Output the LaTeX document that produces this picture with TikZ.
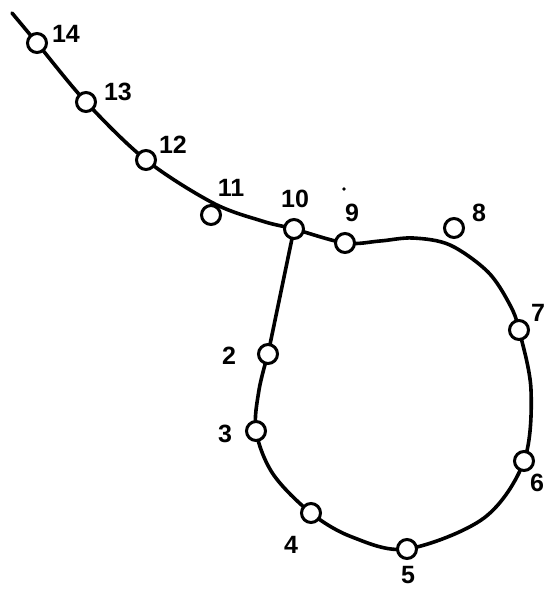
\documentclass[tikz,border=0pt]{standalone}
\usepackage{fontspec}
\setmainfont{Liberation Sans}
\begin{document}
\begin{tikzpicture}[x=1pt,y=-1pt,
  wire/.style={line width=3.6pt,line cap=round,line join=round},
  stn/.style={circle,draw,line width=3pt,fill=white,minimum size=19pt,inner sep=0pt},
  lbl/.style={font=\fontsize{25}{25}\selectfont\bfseries,inner sep=0pt}]
\useasboundingbox (0,0) rectangle (549,591);
% curve
\coordinate (s) at (12,13);
\coordinate (p14) at (37,43);
\coordinate (p13) at (86,102);
\coordinate (p12) at (146,160);
\coordinate (p10) at (294,229);
\coordinate (p9) at (345,243);
\coordinate (p7) at (519,330);
\coordinate (p6) at (524,461);
\coordinate (p5) at (407,549);
\coordinate (p4) at (311,513);
\coordinate (p3) at (256,431);
\coordinate (p2) at (268,354);
\draw[wire] plot[smooth,tension=0.55] coordinates {(12,13) (37,43) (86,102) (146,160) (213,203) (262,221) (294,229) (345,243) (380,241) (413,238) (450,245) (488,272) (510,305) (519,330) (531,390) (524,461) (484,518) (407,549) (352,537) (311,513) (273,474) (256,431) (259,390) (268,354)};
\draw[wire] (p2) -- (p10);
% stations
\node[stn] (n14) at (p14) {};
\node[stn] (n13) at (p13) {};
\node[stn] (n12) at (p12) {};
\node[stn] (n11) at (211,215) {};
\node[stn] (n10) at (p10) {};
\node[stn] (n9) at (p9) {};
\node[stn] (n8) at (454,228) {};
\node[stn] (n7) at (p7) {};
\node[stn] (n6) at (p6) {};
\node[stn] (n5) at (p5) {};
\node[stn] (n4) at (p4) {};
\node[stn] (n3) at (p3) {};
\node[stn] (n2) at (p2) {};
\fill (344,189) circle (1.8pt);
% labels
\node[lbl] (l14) at (66,34) {14};
\node[lbl] (l13) at (118,92) {13};
\node[lbl] (l12) at (173,145) {12};
\node[lbl] (l11) at (231,188) {11};
\node[lbl] (l10) at (295,199) {10};
\node[lbl] (l9) at (352,213) {9};
\node[lbl] (l8) at (479,213) {8};
\node[lbl] (l7) at (538,313) {7};
\node[lbl] (l2) at (229,356) {2};
\node[lbl] (l3) at (225,434) {3};
\node[lbl] (l4) at (291,545) {4};
\node[lbl] (l5) at (408,575) {5};
\node[lbl] (l6) at (537,483) {6};
\end{tikzpicture}
\end{document}
